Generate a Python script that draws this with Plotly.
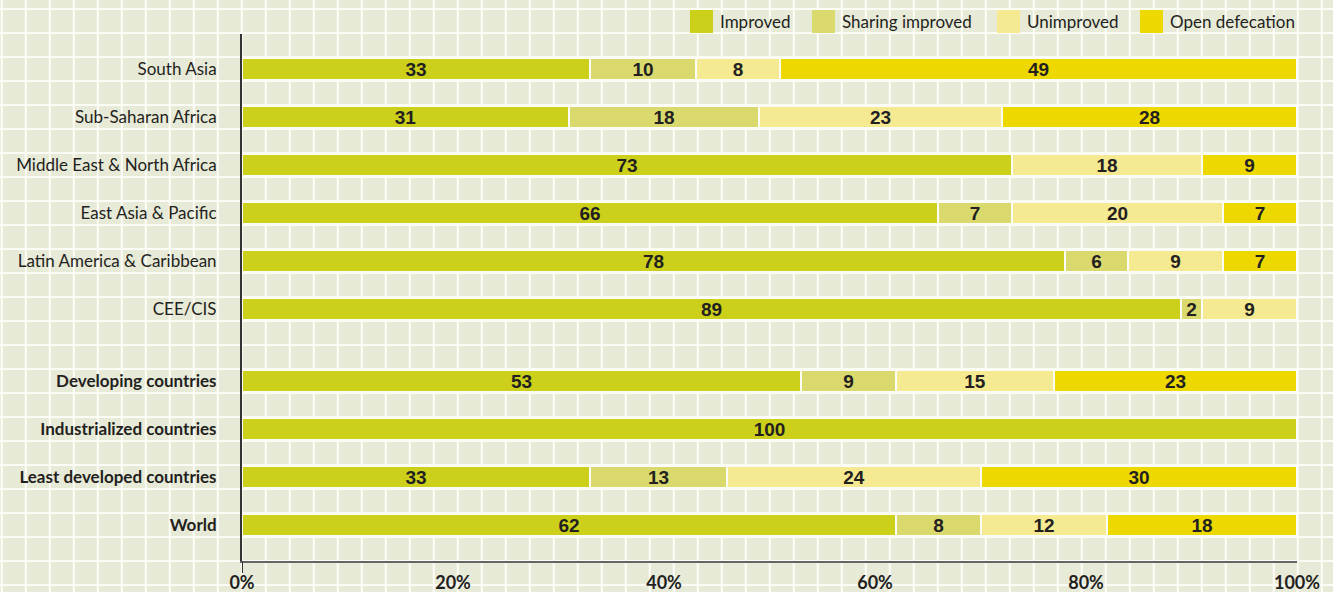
import plotly.graph_objects as go

# ---------------- data ----------------
regions = [
    "South Asia",
    "Sub-Saharan Africa",
    "Middle East & North Africa",
    "East Asia & Pacific",
    "Latin America & Caribbean",
    "CEE/CIS",
    "Developing countries",
    "Industrialized countries",
    "Least developed countries",
    "World",
]
bold_rows = ["Developing countries", "Industrialized countries",
             "Least developed countries", "World"]

series_names = ["Improved", "Sharing improved", "Unimproved", "Open defecation"]
improved = [33, 31, 73, 66, 78, 89, 53, 100, 33, 62]
sharing_improved = [10, 18, 0, 7, 6, 2, 9, 0, 13, 8]
unimproved = [8, 23, 18, 20, 9, 9, 15, 0, 24, 12]
open_defecation = [49, 28, 9, 7, 7, 0, 23, 0, 30, 18]

x_tick_vals = [0, 20, 40, 60, 80, 100]
x_tick_text = ["0%", "20%", "40%", "60%", "80%", "100%"]

# ---------------- styling ----------------
colors = ["#CDD01A", "#DAD96E", "#F5E991", "#EDD900"]
bg = "#E8EAD8"
grid_col = "#FCFCF6"
text_col = "#231F20"
W, H = 1333, 592
L, R, T, B = 242, 36, 34, 31
PW, PH = W - L - R, H - T - B

# row positions: two groups, separated by a 1.5-row gap
ypos = [i for i in range(6)] + [6.5 + i for i in range(4)]
ticktext = [f"<b>{r}</b>" if r in bold_rows else r for r in regions]

fig = go.Figure()
all_series = [improved, sharing_improved, unimproved, open_defecation]
for name, vals, col in zip(series_names, all_series, colors):
    fig.add_trace(go.Bar(
        y=ypos,
        x=[v if v > 0 else None for v in vals],
        orientation="h",
        name=name,
        marker=dict(color=col, line=dict(color=grid_col, width=2)),
        width=22 / 48,
        text=[str(v) if v > 0 else "" for v in vals],
        textposition="inside",
        insidetextanchor="middle",
        textangle=0,
        constraintext="none",
        textfont=dict(family="Liberation Sans, Arial, sans-serif", size=19,
                      color=text_col, weight="bold"),
        showlegend=False,
        hoverinfo="x+name",
    ))


def xp(px):
    return (px - L) / PW


def yp(py):
    return (T + PH - py) / PH


shapes = []
# background grid (decorative, whole page)
k = 0
while 1.8 + 24 * k < W:
    x = 1.8 + 24 * k
    shapes.append(dict(type="line", xref="paper", yref="paper",
                       x0=xp(x), x1=xp(x), y0=yp(0), y1=yp(H),
                       line=dict(color=grid_col, width=2), layer="below"))
    k += 1
k = 0
while 9 + 24 * k < H:
    y = 9 + 24 * k
    shapes.append(dict(type="line", xref="paper", yref="paper",
                       x0=xp(0), x1=xp(W), y0=yp(y), y1=yp(y),
                       line=dict(color=grid_col, width=2), layer="below"))
    k += 1

# extension of the y axis line below the x axis
shapes.append(dict(type="line", xref="x", yref="paper", x0=0, x1=0,
                   y0=0, y1=yp(573), line=dict(color="#333333", width=2),
                   layer="above"))

# manual legend
annotations = []
legend_box_x = [690, 812, 997, 1140]
for name, col, bx in zip(series_names, colors, legend_box_x):
    shapes.append(dict(type="rect", xref="paper", yref="paper",
                       x0=xp(bx), x1=xp(bx + 23), y0=yp(33), y1=yp(10),
                       fillcolor=col, line=dict(width=0), layer="above"))
    annotations.append(dict(xref="paper", yref="paper", x=xp(bx + 28),
                            y=yp(21.5), xanchor="left", yanchor="middle",
                            text=name, showarrow=False,
                            font=dict(family="Lato, sans-serif", size=17,
                                      color=text_col)))

fig.update_layout(
    width=W, height=H,
    margin=dict(l=L, r=R, t=T, b=B, pad=0, autoexpand=False),
    paper_bgcolor=bg,
    plot_bgcolor="rgba(0,0,0,0)",
    barmode="stack",
    bargap=0,
    shapes=shapes,
    annotations=annotations,
    uniformtext=dict(minsize=19, mode="show"),
    xaxis=dict(range=[0, 100], tickvals=x_tick_vals, ticktext=x_tick_text,
               showgrid=False, zeroline=False, showline=True,
               linecolor="#666666", linewidth=2, ticks="",
               ticklabelstandoff=4, automargin=False,
               tickfont=dict(family="Lato, sans-serif", size=18,
                             color=text_col, weight="bold"),
               fixedrange=True),
    yaxis=dict(range=[(561 - 69) / 48, (34 - 69) / 48], tickvals=ypos,
               ticktext=ticktext, showgrid=False, zeroline=False,
               showline=True, linecolor="#333333", linewidth=2, ticks="",
               ticklabelstandoff=20, automargin=False,
               tickfont=dict(family="Lato, sans-serif", size=17,
                             color=text_col),
               fixedrange=True),
    font=dict(family="Lato, sans-serif", color=text_col),
)

fig.write_html(
    "out.html",
    config=dict(displayModeBar=False),
    post_script="document.body.style.margin='0px';"
                "document.body.style.background='" + bg + "';",
)
